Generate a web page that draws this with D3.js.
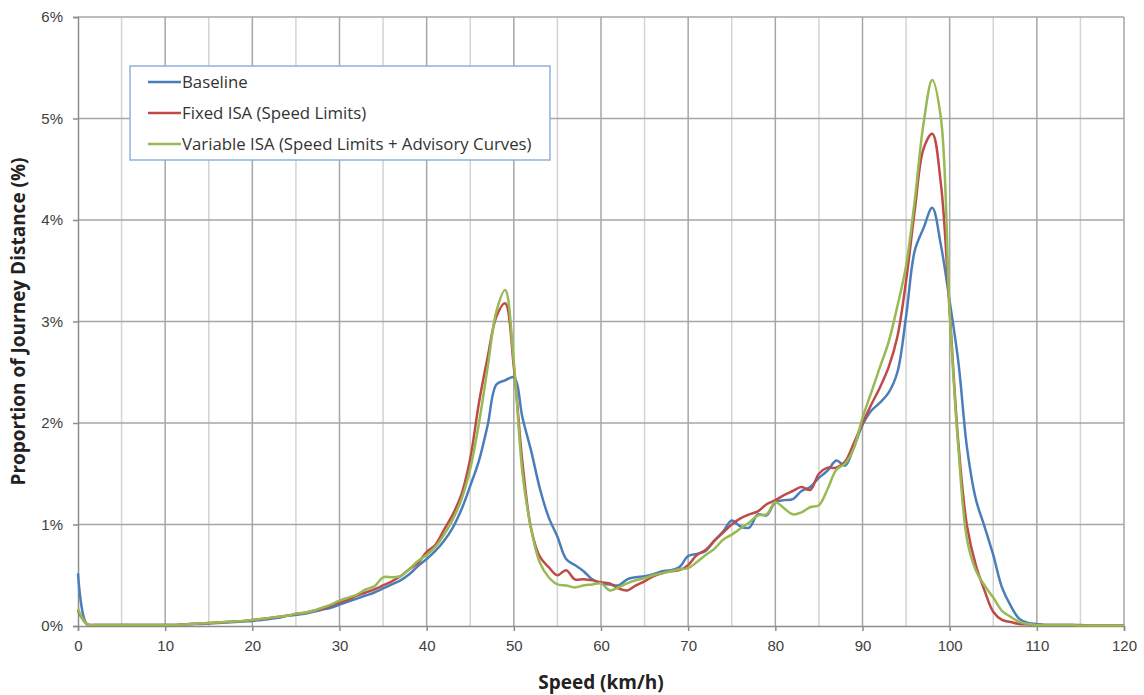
<!DOCTYPE html>
<html>
<head>
<meta charset="utf-8">
<script src="https://cdn.jsdelivr.net/npm/d3@7"></script>
<style>
  body { margin: 0; background: #fff; }
  svg { font-family: "Open Sans", Lato, sans-serif; }
</style>
</head>
<body>
<div id="chart"></div>
<script>
// speeds in km/h, one point per km/h
const speeds = d3.range(0, 121);

const baseline = [
  0.52, 0.02, 0.01, 0.01, 0.01, 0.01, 0.01, 0.01, 0.01, 0.01,
  0.01, 0.01, 0.015, 0.02, 0.02, 0.025, 0.03, 0.035, 0.04, 0.045,
  0.05, 0.06, 0.07, 0.08, 0.1, 0.11, 0.12, 0.14, 0.16, 0.18,
  0.21, 0.24, 0.27, 0.3, 0.33, 0.37, 0.41, 0.45, 0.51, 0.59,
  0.66, 0.74, 0.84, 0.97, 1.15, 1.38, 1.63, 1.98, 2.38, 2.42,
  2.45, 2.05, 1.72, 1.35, 1.07, 0.88, 0.66, 0.6, 0.54, 0.46,
  0.42, 0.41, 0.4, 0.46, 0.48, 0.49, 0.51, 0.54, 0.55, 0.58,
  0.69, 0.71, 0.74, 0.84, 0.93, 1.04, 0.98, 0.97, 1.1, 1.09,
  1.22, 1.24, 1.25, 1.33, 1.37, 1.46, 1.53, 1.63, 1.58, 1.76,
  1.98, 2.12, 2.2, 2.3, 2.5, 3.05, 3.7, 3.92, 4.12, 3.75,
  3.2, 2.6, 1.75, 1.25, 0.98, 0.7, 0.38, 0.2, 0.07, 0.03,
  0.02, 0.01, 0.01, 0.01, 0.01, 0.01, 0.005, 0.005, 0.005, 0.005,
  0.005
];

const fixedIsa = [
  0.15, 0.02, 0.01, 0.01, 0.01, 0.01, 0.01, 0.01, 0.01, 0.01,
  0.01, 0.01, 0.015, 0.02, 0.025, 0.03, 0.035, 0.04, 0.045, 0.05,
  0.06, 0.07, 0.08, 0.09, 0.1, 0.12, 0.13, 0.15, 0.17, 0.2,
  0.23, 0.26, 0.3, 0.33, 0.36, 0.4, 0.44, 0.49, 0.56, 0.62,
  0.73, 0.8, 0.95, 1.1, 1.3, 1.65, 2.2, 2.65, 3.05, 3.18,
  2.55, 1.6, 0.95, 0.68, 0.58, 0.5, 0.55, 0.46, 0.46, 0.45,
  0.43, 0.42, 0.37, 0.35, 0.4, 0.44, 0.49, 0.52, 0.54, 0.55,
  0.6, 0.7, 0.75, 0.84, 0.92, 1.0, 1.06, 1.1, 1.13, 1.2,
  1.24, 1.29, 1.33, 1.37, 1.34, 1.5, 1.56, 1.56, 1.62, 1.8,
  2.0, 2.18, 2.35, 2.55, 2.85, 3.4, 4.1, 4.7, 4.85, 4.35,
  3.1, 1.8, 0.98, 0.6, 0.35, 0.14, 0.06, 0.04, 0.02, 0.015,
  0.01, 0.01, 0.01, 0.01, 0.01, 0.005, 0.005, 0.005, 0.005, 0.005,
  0.005
];

const variableIsa = [
  0.17, 0.02, 0.01, 0.01, 0.01, 0.01, 0.01, 0.01, 0.01, 0.01,
  0.01, 0.01, 0.015, 0.02, 0.025, 0.03, 0.035, 0.04, 0.045, 0.05,
  0.06, 0.07, 0.08, 0.09, 0.1, 0.12, 0.13, 0.15, 0.18, 0.21,
  0.25, 0.28, 0.31, 0.36, 0.39, 0.48, 0.48, 0.49, 0.56, 0.64,
  0.7, 0.78, 0.9, 1.05, 1.25, 1.55, 2.0, 2.55, 3.1, 3.31,
  2.6, 1.5, 0.95, 0.62, 0.48, 0.41, 0.4, 0.38, 0.4, 0.41,
  0.42, 0.35, 0.38, 0.42, 0.45, 0.47, 0.5, 0.52, 0.54, 0.56,
  0.57, 0.63, 0.7, 0.76, 0.85, 0.9, 0.96, 1.02, 1.09, 1.1,
  1.22, 1.16, 1.1, 1.12, 1.17, 1.19, 1.35, 1.54, 1.6, 1.75,
  2.05, 2.3, 2.55, 2.8, 3.15, 3.55, 4.2, 4.95, 5.38, 5.0,
  3.1, 1.75, 0.85, 0.55, 0.4, 0.28, 0.15, 0.09, 0.04, 0.02,
  0.01, 0.01, 0.01, 0.01, 0.01, 0.005, 0.005, 0.005, 0.005, 0.005,
  0.005
];

const seriesNames = ['Baseline', 'Fixed ISA (Speed Limits)', 'Variable ISA (Speed Limits + Advisory Curves)'];
const seriesColors = ['#4a7ebb', '#be4b48', '#98b954'];
const yTicks = [0, 1, 2, 3, 4, 5, 6];
const xTicks = d3.range(0, 121, 10);

const width = 1144, height = 695;
const margin = { top: 17, right: 20, bottom: 69, left: 78 };
const boundedWidth = width - margin.left - margin.right;
const boundedHeight = height - margin.top - margin.bottom;

const svg = d3.select('#chart').append('svg')
  .attr('width', width)
  .attr('height', height);

const g = svg.append('g')
  .attr('transform', `translate(${margin.left}, ${margin.top})`);

const xScale = d3.scaleLinear().domain([0, 120]).range([0, boundedWidth]);
const yScale = d3.scaleLinear().domain([0, 6]).range([boundedHeight, 0]);

// vertical grid, light at the 5s and darker at the 10s
g.append('g').selectAll('line')
  .data(d3.range(5, 121, 5))
  .join('line')
  .attr('x1', d => xScale(d)).attr('x2', d => xScale(d))
  .attr('y1', 0).attr('y2', boundedHeight)
  .attr('stroke', d => d % 10 === 0 ? '#a6a6a6' : '#d4d4d4')
  .attr('stroke-width', 1.5);

// horizontal grid
g.append('g').selectAll('line')
  .data(yTicks.slice(1))
  .join('line')
  .attr('x1', 0).attr('x2', boundedWidth)
  .attr('y1', d => yScale(d)).attr('y2', d => yScale(d))
  .attr('stroke', '#a6a6a6')
  .attr('stroke-width', 1.5);

// axes
const yAxis = g.append('g')
  .call(d3.axisLeft(yScale).tickValues(yTicks).tickFormat(d => d + '%').tickSize(5).tickPadding(10));
const xAxis = g.append('g')
  .attr('transform', `translate(0, ${boundedHeight})`)
  .call(d3.axisBottom(xScale).tickValues(xTicks).tickSize(5).tickPadding(9));

[xAxis, yAxis].forEach(a => {
  a.select('.domain').attr('stroke', '#8c8c8c').attr('stroke-width', 1.5);
  a.selectAll('.tick line').attr('stroke', '#8c8c8c').attr('stroke-width', 1.5);
  a.selectAll('.tick text').attr('fill', '#404040').style('font-size', '15px');
});

// lines
const line = d3.line()
  .x((d, i) => xScale(speeds[i]))
  .y(d => yScale(d))
  .curve(d3.curveCatmullRom.alpha(0.5));

[baseline, fixedIsa, variableIsa].forEach((values, i) => {
  g.append('path')
    .datum(values)
    .attr('fill', 'none')
    .attr('stroke', seriesColors[i])
    .attr('stroke-width', 2.5)
    .attr('stroke-linejoin', 'round')
    .attr('d', line);
});

// legend
const legend = svg.append('g').attr('transform', 'translate(130, 66)');
legend.append('rect')
  .attr('width', 420).attr('height', 94)
  .attr('fill', '#fff')
  .attr('stroke', '#8eb1d9')
  .attr('stroke-width', 1.5);

seriesNames.forEach((name, i) => {
  const row = legend.append('g').attr('transform', `translate(0, ${16 + i * 31})`);
  row.append('line')
    .attr('x1', 18).attr('x2', 51)
    .attr('stroke', seriesColors[i]).attr('stroke-width', 2.5);
  row.append('text')
    .attr('x', 52).attr('y', 6)
    .attr('fill', '#333')
    .style('font-size', '16.8px')
    .text(name);
});

// axis titles
svg.append('text')
  .attr('x', margin.left + boundedWidth / 2)
  .attr('y', 689)
  .attr('text-anchor', 'middle')
  .attr('font-weight', 700)
  .style('font-size', '19px')
  .attr('fill', '#222')
  .text('Speed (km/h)');

svg.append('text')
  .attr('transform', `translate(25, ${margin.top + boundedHeight / 2}) rotate(-90)`)
  .attr('text-anchor', 'middle')
  .attr('font-weight', 700)
  .style('font-size', '19px')
  .attr('fill', '#222')
  .text('Proportion of Journey Distance (%)');
</script>
</body>
</html>
